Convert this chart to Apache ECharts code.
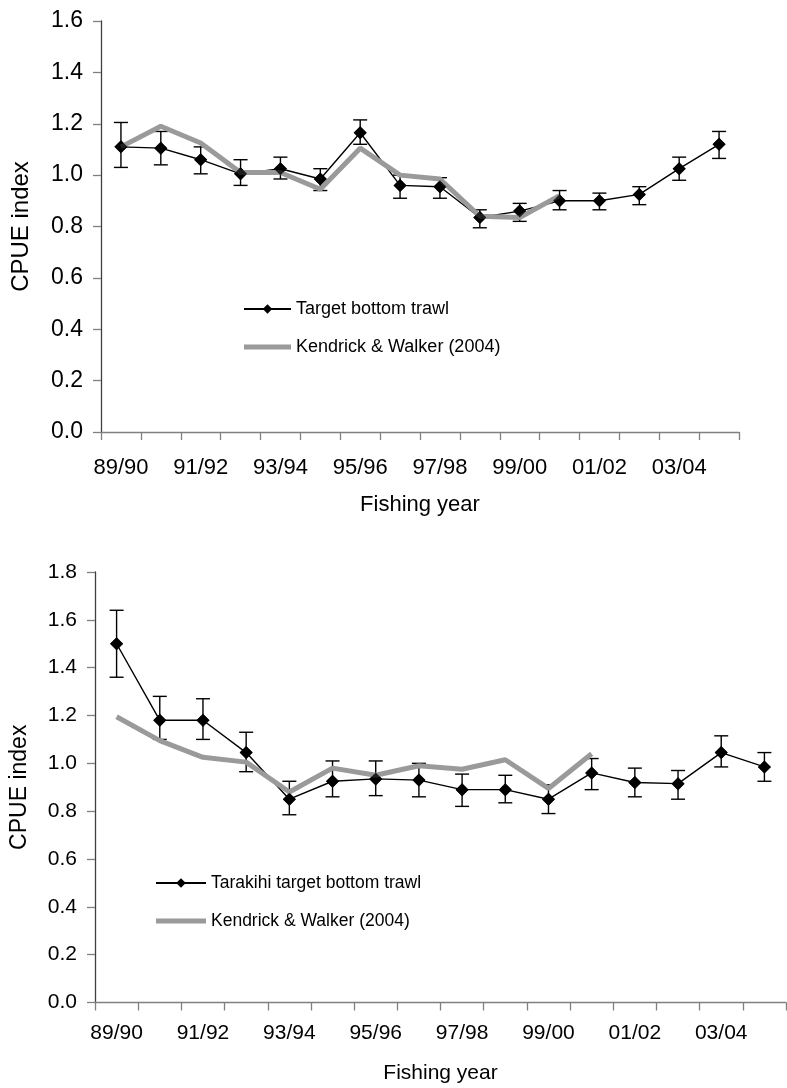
<!DOCTYPE html>
<html>
<head>
<meta charset="utf-8">
<script src="https://cdn.jsdelivr.net/npm/echarts@6/dist/echarts.min.js"></script>
<style>
  html, body { margin: 0; padding: 0; background: #fff; }
  #chart { width: 787px; height: 1088px; }
</style>
</head>
<body>
<div id="chart"></div>
<script>
// Fishing years (categories shared by both panels)
const years = ['89/90','90/91','91/92','92/93','93/94','94/95','95/96','96/97',
               '97/98','98/99','99/00','00/01','01/02','02/03','03/04','04/05'];

// Upper panel: target bottom trawl CPUE index with 95% bounds
const topIndex = [1.11, 1.105, 1.06, 1.005, 1.025, 0.985, 1.165, 0.96, 0.955, 0.835, 0.86, 0.90, 0.90, 0.925, 1.025, 1.12];
const topLower = [1.03, 1.04, 1.005, 0.96, 0.985, 0.94, 1.12, 0.91, 0.91, 0.795, 0.82, 0.865, 0.865, 0.885, 0.98, 1.065];
const topUpper = [1.205, 1.17, 1.11, 1.06, 1.07, 1.025, 1.215, 1.00, 0.99, 0.865, 0.89, 0.94, 0.93, 0.955, 1.07, 1.17];
const topKW    = [1.11, 1.19, 1.125, 1.01, 1.01, 0.945, 1.105, 1.0, 0.985, 0.84, 0.835, 0.92];

// Lower panel: tarakihi target bottom trawl CPUE index with 95% bounds
const botIndex = [1.50, 1.18, 1.18, 1.045, 0.85, 0.925, 0.935, 0.93, 0.89, 0.89, 0.85, 0.96, 0.92, 0.915, 1.045, 0.985];
const botLower = [1.36, 1.10, 1.10, 0.965, 0.785, 0.86, 0.865, 0.86, 0.82, 0.835, 0.79, 0.89, 0.86, 0.85, 0.985, 0.925];
const botUpper = [1.64, 1.28, 1.27, 1.13, 0.925, 1.01, 1.01, 1.0, 0.955, 0.95, 0.91, 1.02, 0.98, 0.97, 1.115, 1.045];
const botKW    = [1.195, 1.095, 1.025, 1.005, 0.88, 0.98, 0.95, 0.99, 0.975, 1.015, 0.895, 1.04];

const yTicksTop = { min: 0, max: 1.6, interval: 0.2 };
const yTicksBot = { min: 0, max: 1.8, interval: 0.2 };

const FONT = '"Liberation Sans", Arial, sans-serif';
const GREY = '#9a9a9a';
// thick grey bar used as the legend key of the comparison series
const GREY_KEY = 'path://M0,0 L48,0 L48,5 L0,5 Z';

function errorBarData(lower, upper) {
  return lower.map((lo, i) => [i, lo, upper[i]]);
}

function renderErrorBar(params, api) {
  const lo = api.coord([api.value(0), api.value(1)]);
  const hi = api.coord([api.value(0), api.value(2)]);
  const cap = 7;
  const style = { stroke: '#000', lineWidth: 1.4, fill: null };
  return {
    type: 'group',
    children: [
      { type: 'line', shape: { x1: lo[0], y1: lo[1], x2: hi[0], y2: hi[1] }, style },
      { type: 'line', shape: { x1: hi[0] - cap, y1: hi[1], x2: hi[0] + cap, y2: hi[1] }, style },
      { type: 'line', shape: { x1: lo[0] - cap, y1: lo[1], x2: lo[0] + cap, y2: lo[1] }, style }
    ]
  };
}

function xAxisFor(gridIndex, labelSize, margin, nameGap) {
  return {
    type: 'category',
    gridIndex,
    data: years,
    boundaryGap: true,
    name: 'Fishing year',
    nameLocation: 'middle',
    nameGap,
    nameTextStyle: { fontFamily: FONT, fontSize: labelSize, color: '#000' },
    axisLine: { lineStyle: { color: '#808080', width: 1.3 } },
    axisTick: { show: true, interval: 0, length: 8, lineStyle: { color: '#808080', width: 1.3 } },
    axisLabel: { interval: 1, margin, fontFamily: FONT, fontSize: labelSize, color: '#000' },
    splitLine: { show: false }
  };
}

function yAxisFor(gridIndex, ticks, labelSize, nameSize, nameGap) {
  return {
    type: 'value',
    gridIndex,
    min: ticks.min,
    max: ticks.max,
    interval: ticks.interval,
    name: 'CPUE index',
    nameLocation: 'middle',
    nameGap,
    nameTextStyle: { fontFamily: FONT, fontSize: nameSize, color: '#000' },
    axisLine: { show: true, lineStyle: { color: '#404040', width: 1.3 } },
    axisTick: { show: true, length: 8, lineStyle: { color: '#808080', width: 1.3 } },
    axisLabel: {
      margin: 18, fontFamily: FONT, fontSize: labelSize, color: '#000',
      formatter: v => v.toFixed(1)
    },
    splitLine: { show: false }
  };
}

function panelSeries(idx, name, values, lower, upper, kw) {
  return [
    {
      type: 'custom', name: name + ' bounds', xAxisIndex: idx, yAxisIndex: idx,
      data: errorBarData(lower, upper), renderItem: renderErrorBar,
      encode: { x: 0, y: [1, 2] }, z: 1, silent: true
    },
    {
      type: 'line', name, xAxisIndex: idx, yAxisIndex: idx, data: values,
      symbol: 'diamond', symbolSize: 13, showSymbol: true,
      itemStyle: { color: '#000' }, lineStyle: { color: '#000', width: 1.4 },
      z: 2, animation: false
    },
    {
      type: 'line', name: 'Kendrick & Walker (2004)', xAxisIndex: idx, yAxisIndex: idx, data: kw,
      symbol: 'none', lineStyle: { color: GREY, width: 5 }, itemStyle: { color: GREY },
      z: 3, animation: false
    },
    {
      // diamonds drawn above the grey comparison line
      type: 'scatter', name: name + ' markers', xAxisIndex: idx, yAxisIndex: idx, data: values,
      symbol: 'diamond', symbolSize: 13, itemStyle: { color: '#000' }, z: 4, silent: true
    }
  ];
}

const chart = echarts.init(document.getElementById('chart'));
chart.setOption({
  animation: false,
  backgroundColor: '#fff',
  grid: [
    { left: 101, top: 21, width: 638, height: 411 },
    { left: 95, top: 572, width: 691, height: 430.5 }
  ],
  xAxis: [xAxisFor(0, 22, 25, 62), xAxisFor(1, 21, 20, 60)],
  yAxis: [yAxisFor(0, yTicksTop, 23, 24, 68), yAxisFor(1, yTicksBot, 21, 23, 64)],
  legend: [
    {
      data: ['Target bottom trawl', { name: 'Kendrick & Walker (2004)', icon: GREY_KEY }],
      orient: 'vertical', left: 243, top: 300, padding: 0,
      itemWidth: 47, itemHeight: 12, itemGap: 20,
      textStyle: { fontFamily: FONT, fontSize: 18, color: '#000' }
    },
    {
      data: ['Tarakihi target bottom trawl', { name: 'Kendrick & Walker (2004)', icon: GREY_KEY }],
      orient: 'vertical', left: 155, top: 874, padding: 0,
      itemWidth: 50, itemHeight: 12, itemGap: 20,
      textStyle: { fontFamily: FONT, fontSize: 17.5, color: '#000' }
    }
  ],
  series: [
    ...panelSeries(0, 'Target bottom trawl', topIndex, topLower, topUpper, topKW),
    ...panelSeries(1, 'Tarakihi target bottom trawl', botIndex, botLower, botUpper, botKW)
  ]
});
</script>
</body>
</html>
